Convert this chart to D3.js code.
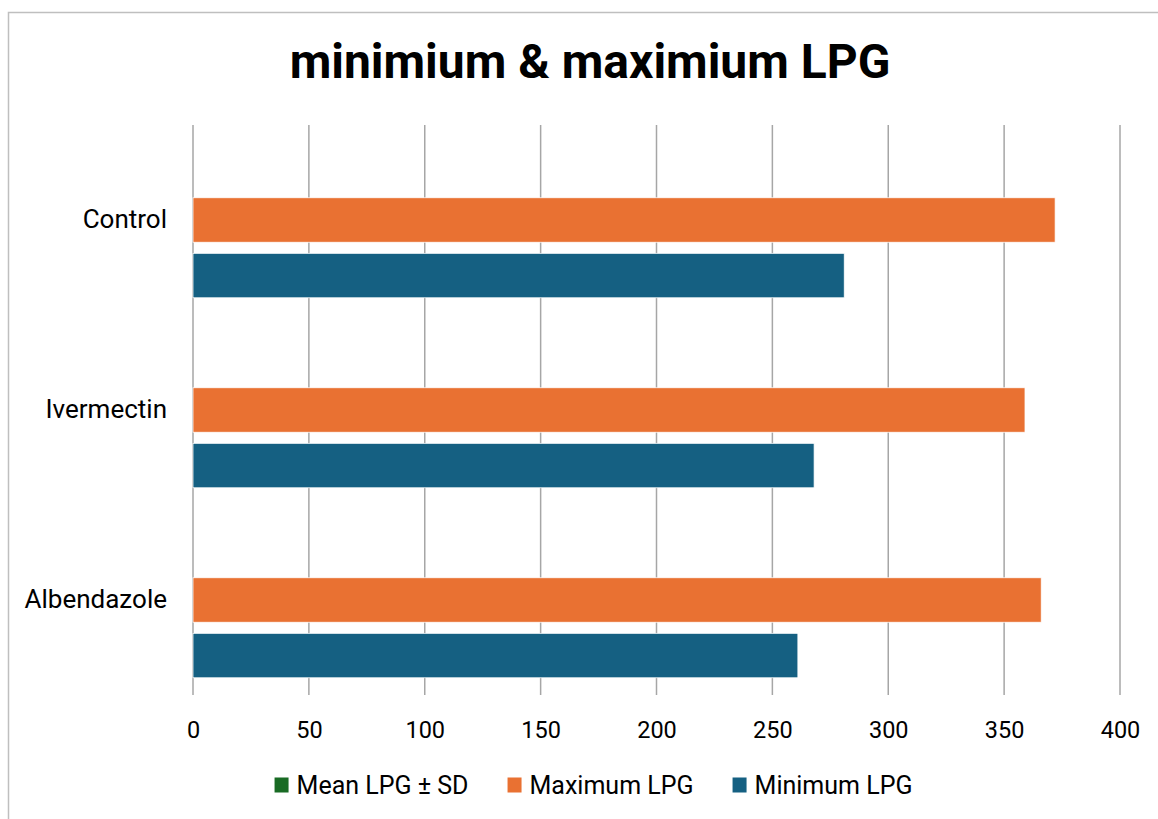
<!DOCTYPE html>
<html>
<head>
<meta charset="utf-8">
<script src="https://cdn.jsdelivr.net/npm/d3@7"></script>
<style>
  html, body { margin: 0; padding: 0; background: #fff; }
  svg { display: block; font-family: Roboto, "Open Sans", sans-serif; }
</style>
</head>
<body>
<div id="chart"></div>
<script>
// chart data
var categories = ["Control", "Ivermectin", "Albendazole"];
var seriesNames = ["Mean LPG ± SD", "Maximum LPG", "Minimum LPG"];
var meanLPG = [null, null, null];   // series is in the legend but has no bars
var maxLPG = [372, 359, 366];
var minLPG = [281, 268, 261];
var xTicks = [0, 50, 100, 150, 200, 250, 300, 350, 400];
var seriesColors = ["#196B24", "#E97132", "#156082"];

var W = 1158, H = 819;
var plotLeft = 193, plotRight = 1120, plotTop = 125, plotBottom = 695;

var svg = d3.select("#chart").append("svg")
  .attr("width", W)
  .attr("height", H);

// outer chart border (cropped at right/bottom)
svg.append("path")
  .attr("d", "M8.5," + H + " L8.5,12.5 L" + W + ",12.5")
  .attr("fill", "none")
  .attr("stroke", "#BFBFBF")
  .attr("stroke-width", 1.5);

svg.append("text")
  .attr("x", 590)
  .attr("y", 78)
  .attr("text-anchor", "middle")
  .attr("font-size", 48)
  .attr("font-weight", "bold")
  .attr("fill", "#000")
  .text("minimium & maximium LPG");

var x = d3.scaleLinear().domain([0, 400]).range([plotLeft, plotRight]);

var y0 = d3.scaleBand().domain(categories).range([plotTop, plotBottom]);

var y1 = d3.scaleBand().domain(seriesNames)
  .range([0, y0.bandwidth()])
  .paddingInner(0.2)
  .paddingOuter(0.31);

// gridlines
svg.append("g")
  .selectAll("line")
  .data(xTicks).enter()
  .append("line")
  .attr("x1", d => x(d)).attr("x2", d => x(d))
  .attr("y1", plotTop).attr("y2", plotBottom)
  .attr("stroke", "#A6A6A6")
  .attr("stroke-width", 1.5);

// x axis labels
var xAxis = svg.append("g")
  .attr("transform", "translate(0," + (plotBottom + 26) + ")")
  .call(d3.axisBottom(x).tickValues(xTicks).tickSize(0).tickPadding(0));
xAxis.select(".domain").remove();
xAxis.selectAll("text")
  .attr("font-size", 23.5)
  .attr("font-family", "Roboto, sans-serif")
  .attr("fill", "#000")
  .attr("dy", "0.71em");

// category labels
var yAxis = svg.append("g")
  .attr("transform", "translate(" + (plotLeft - 26) + ",0)")
  .call(d3.axisLeft(y0).tickSize(0).tickPadding(0));
yAxis.select(".domain").remove();
yAxis.selectAll("text")
  .attr("font-size", 26)
  .attr("font-family", "Roboto, sans-serif")
  .attr("fill", "#000");

// bars
var rows = categories.map((c, i) => ({
  cat: c,
  vals: [
    { s: seriesNames[0], v: meanLPG[i], c: seriesColors[0] },
    { s: seriesNames[1], v: maxLPG[i], c: seriesColors[1] },
    { s: seriesNames[2], v: minLPG[i], c: seriesColors[2] }
  ]
}));

svg.append("g")
  .selectAll("g")
  .data(rows).enter()
  .append("g")
  .attr("transform", d => "translate(0," + y0(d.cat) + ")")
  .selectAll("rect")
  .data(d => d.vals.filter(v => v.v != null)).enter()
  .append("rect")
  .attr("x", x(0))
  .attr("y", d => y1(d.s))
  .attr("width", d => x(d.v) - x(0))
  .attr("height", y1.bandwidth())
  .attr("fill", d => d.c)
  .attr("stroke", "#fff")
  .attr("stroke-width", 0.75);

// legend
var legend = svg.append("g");
var lx = 0;
var items = legend.selectAll("g")
  .data(seriesNames).enter()
  .append("g");
items.append("rect")
  .attr("x", 0).attr("y", -7.5)
  .attr("width", 14).attr("height", 15)
  .attr("fill", (d, i) => seriesColors[i]);
items.append("text")
  .attr("x", 22)
  .attr("dy", "0.35em")
  .attr("font-size", 25)
  .attr("fill", "#000")
  .text(d => d);
items.each(function() {
  var g = d3.select(this);
  g.attr("transform", "translate(" + lx + ",0)");
  lx += 22 + g.select("text").node().getComputedTextLength() + 39;
});
var legendW = lx - 39;
legend.attr("transform", "translate(" + (593.5 - legendW / 2) + ",785)");
</script>
</body>
</html>
